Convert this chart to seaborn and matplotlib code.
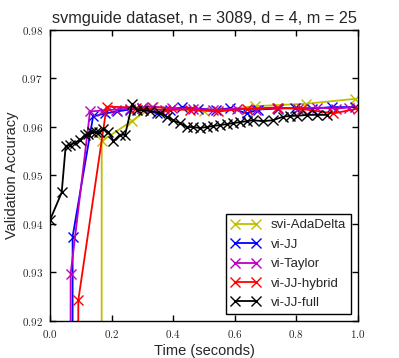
import numpy as np
import pandas as pd
import matplotlib
matplotlib.use('Agg')
import matplotlib.pyplot as plt
import matplotlib.ticker as mticker
import seaborn as sns

# values (points below 0.92 are off the axes)
t_ada = [0.165, 0.168, 0.265, 0.335, 0.50, 0.667, 0.833, 0.99]
acc_ada = [0.50, 0.9571, 0.9612, 0.9642, 0.9632, 0.9643, 0.9648, 0.9658]

t_jj = [0.070, 0.0735, 0.14, 0.18, 0.216, 0.26, 0.30, 0.346, 0.39, 0.43, 0.48,
        0.54, 0.585, 0.64, 0.676, 0.74, 0.795, 0.85, 0.915, 0.99]
acc_jj = [0.50, 0.9374, 0.9622, 0.9628, 0.9632, 0.9636, 0.9640, 0.9628, 0.9635,
          0.9641, 0.9638, 0.9635, 0.9639, 0.9628, 0.9636, 0.9638, 0.9639, 0.9638,
          0.9641, 0.9641]

t_taylor = [0.064, 0.067, 0.13, 0.17, 0.215, 0.26, 0.30, 0.33, 0.395, 0.465,
            0.53, 0.606, 0.67, 0.74, 0.806, 0.866, 0.93, 0.97]
acc_taylor = [0.50, 0.9297, 0.9632, 0.9634, 0.9636, 0.9638, 0.9640, 0.9642, 0.9639,
              0.9638, 0.9635, 0.9638, 0.9636, 0.9640, 0.9638, 0.9640, 0.9638, 0.9640]

t_hybrid = [0.088, 0.092, 0.184, 0.28, 0.373, 0.455, 0.546, 0.64, 0.736, 0.82, 0.92, 1.0]
acc_hybrid = [0.50, 0.9243, 0.9642, 0.9640, 0.9635, 0.9636, 0.9632, 0.9638, 0.9640,
              0.9637, 0.9628, 0.9638]

t_full = [0.0, 0.038, 0.051, 0.065, 0.081, 0.097, 0.114, 0.124, 0.135, 0.148, 0.159,
          0.173, 0.19, 0.206, 0.227, 0.244, 0.267, 0.281, 0.302, 0.325, 0.357, 0.380,
          0.399, 0.422, 0.445, 0.464, 0.487, 0.510, 0.529, 0.552, 0.575, 0.594, 0.617,
          0.640, 0.659, 0.692, 0.724, 0.756, 0.779, 0.802, 0.834, 0.867, 0.899]
acc_full = [0.9408, 0.9465, 0.9561, 0.9563, 0.9568, 0.9573, 0.9584, 0.9586, 0.9589,
            0.9589, 0.9590, 0.9595, 0.9590, 0.9571, 0.9584, 0.9584, 0.9647, 0.9635,
            0.9635, 0.9633, 0.9629, 0.9621, 0.9614, 0.9608, 0.9600, 0.9600, 0.9598,
            0.9600, 0.9602, 0.9604, 0.9606, 0.9608, 0.9610, 0.9612, 0.9614, 0.9612,
            0.9614, 0.9621, 0.9623, 0.9623, 0.9625, 0.9625, 0.9625]

series = [
    ('svi-AdaDelta', t_ada, acc_ada, '#bfbf00'),
    ('vi-JJ', t_jj, acc_jj, '#0000ff'),
    ('vi-Taylor', t_taylor, acc_taylor, '#bf00bf'),
    ('vi-JJ-hybrid', t_hybrid, acc_hybrid, '#ff0000'),
    ('vi-JJ-full', t_full, acc_full, '#000000'),
]

sns.set_style('white', {'xtick.direction': 'in', 'ytick.direction': 'in',
                        'axes.edgecolor': 'black'})
plt.rcParams['font.family'] = ['Liberation Sans', 'DejaVu Sans']
plt.rcParams['mathtext.fontset'] = 'cm'

fig = plt.figure(figsize=(3.99, 3.58), dpi=100)
ax = fig.add_axes([0.1253, 0.1034, 0.7717, 0.8128])

for name, t, acc, col in series:
    sns.lineplot(x=t, y=acc, ax=ax, color=col, label=name, marker='x',
                 markersize=6.5, markeredgewidth=1.0, linewidth=1.3,
                 markeredgecolor=col, sort=False)

ax.set_xlim(0.0, 1.0)
ax.set_ylim(0.92, 0.98)
ax.set_xticks(np.arange(0, 1.01, 0.2))
ax.set_yticks(np.arange(0.92, 0.9801, 0.01))
ax.xaxis.set_major_formatter(mticker.FuncFormatter(lambda v, p: f'${v:.1f}$'))
ax.yaxis.set_major_formatter(mticker.FuncFormatter(lambda v, p: f'${v:.2f}$'))
ax.tick_params(axis='both', which='major', labelsize=8, length=4, width=1,
               bottom=True, left=True, top=True, right=True,
               direction='in', pad=5, color='black')
for s in ax.spines.values():
    s.set_linewidth(1.0)
    s.set_color('black')

ax.set_xlabel('Time (seconds)', fontsize=10.5, labelpad=3)
ax.set_ylabel('Validation Accuracy', fontsize=10.5, labelpad=2)
ax.set_title('svmguide dataset, n = 3089, d = 4, m = 25', fontsize=11.7, pad=5)

leg = ax.legend(loc='lower right', fontsize=9.5, numpoints=2, fancybox=False,
                framealpha=1, edgecolor='black', handlelength=2.2,
                labelspacing=0.55, borderaxespad=0.5)
leg.get_frame().set_linewidth(1.0)

fig.savefig('out.png', dpi=100)
